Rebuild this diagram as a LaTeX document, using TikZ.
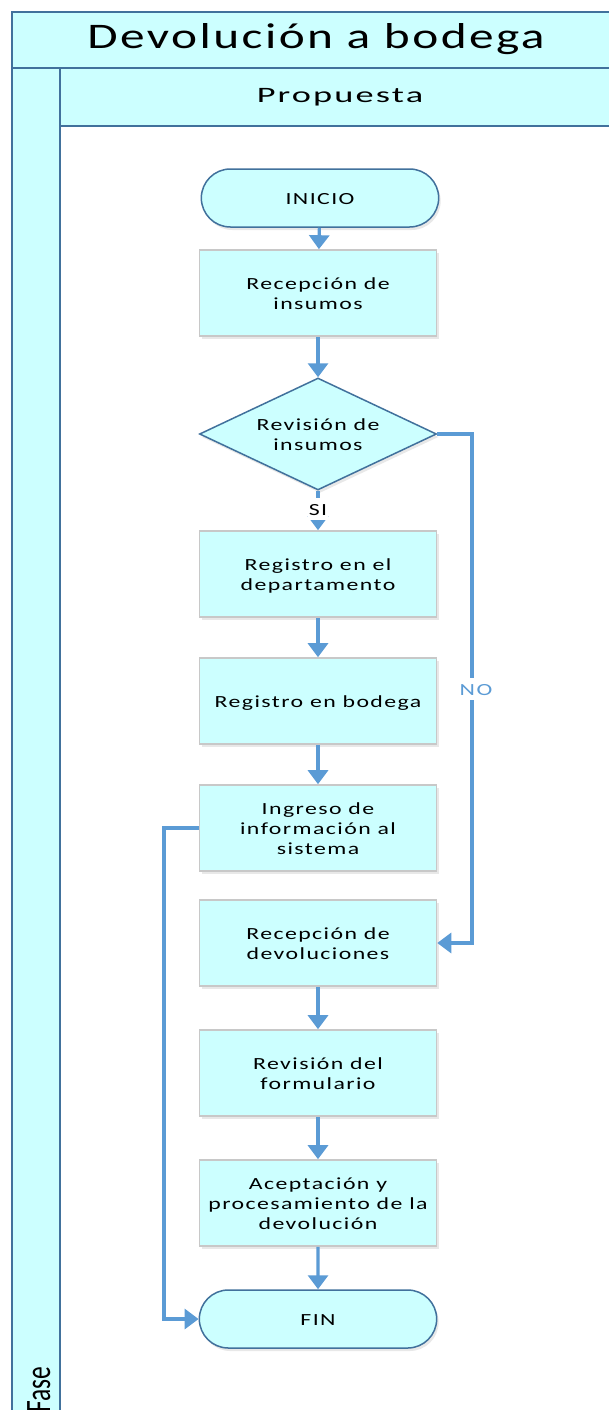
\documentclass[tikz,border=0pt]{standalone}
\usepackage{fontspec}
\usepackage{graphicx}
\setmainfont{Carlito}
\newfontfamily\spacedfont{Carlito}[LetterSpace=6]
\newfontfamily\titlefont{Carlito}[LetterSpace=5]
\usetikzlibrary{arrows.meta,shapes.geometric,shapes.misc,shadows}
\definecolor{lanefill}{HTML}{CCFFFF}
\definecolor{laneline}{HTML}{41719C}
\definecolor{flowblue}{HTML}{5B9BD5}
\definecolor{boxline}{HTML}{C8C8C8}
% horizontally widened, centred multi-line label, set slightly low in its box
\newcommand{\widelabel}[2][1.4]{\raisebox{-2.5pt}[\height][\depth]{\scalebox{#1}[1]{\begin{tabular}{@{}c@{}}#2\end{tabular}}}}
\tikzset{
  boxtext/.style={align=center, font=\spacedfont\fontsize{17}{20}\selectfont},
  softshadow/.style={drop shadow={opacity=0.18, shadow xshift=2pt, shadow yshift=-3pt}},
  procbox/.style={rectangle, draw=boxline, line width=1.6pt, fill=lanefill,
    minimum width=237pt, minimum height=86pt, inner sep=2pt, boxtext, softshadow},
  terminal/.style={rounded rectangle, draw=laneline, line width=1.5pt, fill=lanefill,
    minimum width=237pt, minimum height=58pt, boxtext, softshadow},
  decision/.style={diamond, draw=laneline, line width=1.5pt, fill=lanefill,
    minimum width=237pt, minimum height=112pt, inner sep=0pt, softshadow},
  flow/.style={draw=flowblue, line width=3.2pt, -{Triangle[width=20pt,length=14pt]}},
  lanebox/.style={fill=lanefill, draw=laneline, line width=1.6pt},
}
\begin{document}
\begin{tikzpicture}[x=1pt,y=-1pt]
\useasboundingbox (0,0) rectangle (608,1410);
% swimlane frame
\fill[white] (0,0) rectangle (608,1410);
\draw[lanebox] (12,12) rectangle (630,68);
\draw[lanebox] (12,68) rectangle (60,1430);
\draw[lanebox] (60,68) rectangle (630,126);
\draw[laneline, line width=1.6pt] (60,126) -- (60,1430);
\node[font=\titlefont\fontsize{36}{40}\selectfont] (title) at (316,38) {\widelabel[1.37]{Devolución a bodega}};
\node[font=\spacedfont\fontsize{22}{26}\selectfont] (phase) at (340,95) {\widelabel[1.65]{Propuesta}};
\node[font=\fontsize{25.5}{28}\selectfont, rotate=90, anchor=base west, inner sep=0pt] (fase) at (50,1413) {\scalebox{1}[1.4]{Fase}};

% flowchart nodes
\node[terminal, minimum width=244pt] (inicio) at (320,198) {\widelabel{INICIO}};
\node[procbox] (recins) at (318,293) {\widelabel{Recepción de\\insumos}};
\node[decision] (revins) at (318,434) {};
\node[boxtext] (revinstext) at (revins.center) {\widelabel{Revisión de\\insumos}};
\node[procbox] (regdep) at (318,574) {\widelabel{Registro en el\\departamento}};
\node[procbox] (regbod) at (318,701) {\widelabel{Registro en bodega}};
\node[procbox] (ingreso) at (318,828) {\widelabel{Ingreso de\\información al\\sistema}};
\node[procbox] (recdev) at (318,943) {\widelabel{Recepción de\\devoluciones}};
\node[procbox] (revform) at (318,1073) {\widelabel{Revisión del\\formulario}};
\node[procbox] (acept) at (318,1203) {\widelabel{Aceptación y\\procesamiento de la\\devolución}};
\node[terminal, minimum width=244pt] (fin) at (318,1319) {\widelabel{FIN}};

% connectors
\draw[flow] (inicio) -- (recins);
\draw[flow] (recins) -- (revins);
\draw[flow] (revins) -- node[pos=0.45, fill=white, inner sep=1pt, boxtext] (si) {\widelabel{SI}} (regdep);
\draw[flow] (regdep) -- (regbod);
\draw[flow] (regbod) -- (ingreso);
\draw[flow] (recdev) -- (revform);
\draw[flow] (revform) -- (acept);
\draw[flow] (acept) -- (fin);
\draw[flow] (revins.east) -- (472,434) -- node[pos=0.5, fill=white, inner sep=1pt, boxtext, text=flowblue, xshift=4pt] (no) {\widelabel{NO}} (472,943) -- (recdev.east);
\draw[flow] (ingreso.west) -- (164,828) -- (164,1319) -- (fin.west);
\end{tikzpicture}
\end{document}
